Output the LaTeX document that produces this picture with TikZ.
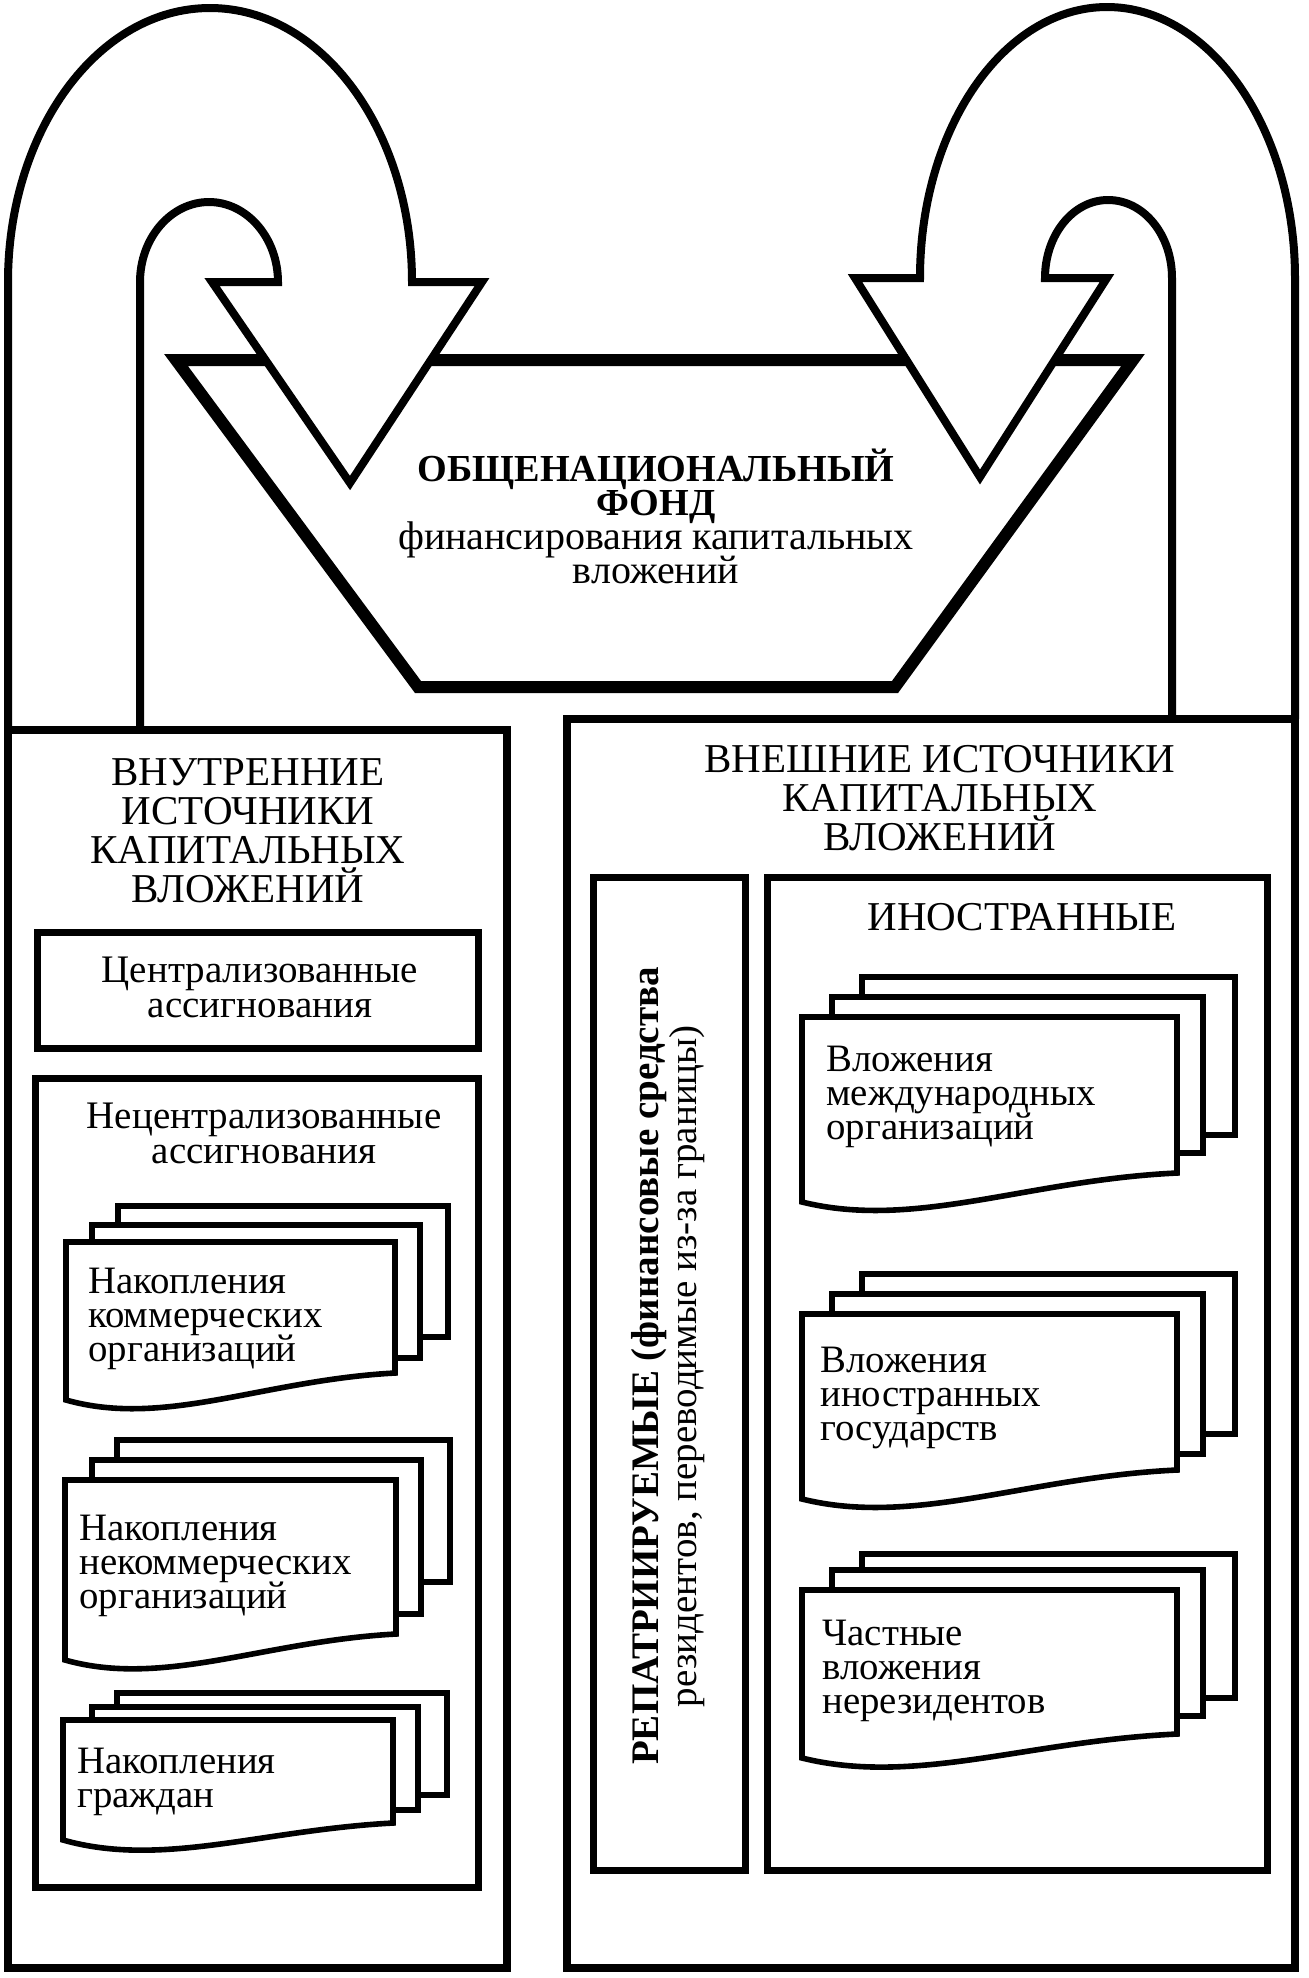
\documentclass[tikz,border=0pt]{standalone}
\usepackage{fontspec}
\setmainfont{Liberation Serif}
\setlength{\lineskiplimit}{-50pt}

\begin{document}
\begin{tikzpicture}[x=0.5pt, y=-0.5pt,
  band/.style = {draw, fill=white, line width=4pt},
  fund/.style = {draw, fill=white, line width=6pt},
  frame/.style = {draw, line width=4pt},
  inbox/.style = {draw, fill=white, line width=3.5pt},
  sheet/.style = {draw, fill=white, line width=2.8pt},
  head/.style = {inner sep=0pt, align=center, anchor=base, font=\fontsize{20.5}{19.5}\selectfont},
  txt/.style = {inner sep=0pt, align=center, anchor=base, font=\fontsize{19.5}{17.5}\selectfont},
  doc/.style = {inner sep=0pt, align=left, anchor=base west, font=\fontsize{19.4}{17}\selectfont}]
\useasboundingbox (0,0) rectangle (1308,1978);

% fund and the two arrows over it
\filldraw[fund] (176,360) -- (1133,360) -- (895,687) -- (418,687) -- cycle;
\filldraw[band] (8,730) -- (8,282) .. controls (8,131) and (98,8) .. (210,8) .. controls (322,8) and (412,131) .. (412,282) -- (482,282) -- (350,483) -- (212,282) -- (278,282) .. controls (278,238) and (247,202) .. (209,202) .. controls (171,202) and (140,238) .. (140,282) -- (140,730);
\filldraw[band] (1295,719) -- (1295,278) .. controls (1295,128) and (1210,7) .. (1107,7) .. controls (1004,7) and (920,128) .. (920,278) -- (855,278) -- (980,477) -- (1107,278) -- (1045,278) .. controls (1045,235) and (1073,200) .. (1108,200) .. controls (1144,200) and (1172,235) .. (1172,278) -- (1172,719);
\node[txt, font=\fontsize{20}{17}\selectfont] (fund) at (656,583) {{\fontsize{19.1}{17}\selectfont\bfseries ОБЩЕНАЦИОНАЛЬНЫЙ}\\{\fontsize{19.1}{17}\selectfont\bfseries ФОНД}\\финансирования капитальных\\вложений};

% internal sources
\draw[frame] (8,730) rectangle (507,1968);
\node[head] (inner) at (248,902) {ВНУТРЕННИЕ\\ИСТОЧНИКИ\\КАПИТАЛЬНЫХ\\ВЛОЖЕНИЙ};
\filldraw[inbox] (37,932) rectangle (478,1048);
\node[txt] (central) at (260,1017) {Централизованные\\ассигнования};
\filldraw[inbox] (35,1078) rectangle (478,1887);
\node[txt] (decentral) at (264,1163) {Нецентрализованные\\ассигнования};

\filldraw[sheet] (118,1206) rectangle (448,1337);
\filldraw[sheet] (92,1225) rectangle (420,1358);
\filldraw[sheet] (66,1242) -- (395,1242) -- (395,1373) .. controls (263,1380) and (165,1428) .. (66,1400) -- cycle;
\node[doc] (acc1) at (88,1361) {Накопления\\коммерческих\\организаций};

\filldraw[sheet] (117,1440) rectangle (450,1582);
\filldraw[sheet] (92,1460) rectangle (421,1614);
\filldraw[sheet] (65,1480) -- (396,1480) -- (396,1634) .. controls (264,1641) and (164,1688) .. (65,1660) -- cycle;
\node[doc] (acc2) at (79,1608) {Накопления\\некоммерческих\\организаций};

\filldraw[sheet] (117,1693) rectangle (447,1795);
\filldraw[sheet] (92,1707) rectangle (418,1810);
\filldraw[sheet] (63,1720) -- (393,1720) -- (393,1823) .. controls (261,1830) and (162,1868) .. (63,1840) -- cycle;
\node[doc] (acc3) at (77,1807) {Накопления\\граждан};

% external sources
\draw[frame] (567,719) rectangle (1295,1968);
\node[head] (outer) at (940,850) {ВНЕШНИЕ ИСТОЧНИКИ\\КАПИТАЛЬНЫХ\\ВЛОЖЕНИЙ};
\filldraw[inbox] (593,877) rectangle (745,1870);
\node[txt, anchor=center, rotate=90, font=\fontsize{19.5}{19}\selectfont] (repat) at (668,1366) {\textbf{РЕПАТРИИРУЕМЫЕ (финансовые средства}\\резидентов, переводимые из-за границы)};
\filldraw[inbox] (767,877) rectangle (1267,1870);
\node[head] (foreign) at (1022,930) {ИНОСТРАННЫЕ};

\filldraw[sheet] (862,977) rectangle (1235,1135);
\filldraw[sheet] (832,997) rectangle (1203,1153);
\filldraw[sheet] (802,1017) -- (1177,1017) -- (1177,1173) .. controls (1027,1180) and (915,1230) .. (802,1202) -- cycle;
\node[doc] (inv1) at (826,1139) {Вложения\\международных\\организаций};

\filldraw[sheet] (862,1274) rectangle (1235,1434);
\filldraw[sheet] (832,1294) rectangle (1203,1454);
\filldraw[sheet] (802,1314) -- (1177,1314) -- (1177,1470) .. controls (1027,1477) and (915,1527) .. (802,1499) -- cycle;
\node[doc] (inv2) at (820,1440) {Вложения\\иностранных\\государств};

\filldraw[sheet] (862,1554) rectangle (1235,1698);
\filldraw[sheet] (832,1570) rectangle (1203,1716);
\filldraw[sheet] (802,1590) -- (1177,1590) -- (1177,1734) .. controls (1027,1741) and (915,1786) .. (802,1758) -- cycle;
\node[doc] (inv3) at (822,1713) {Частные\\вложения\\нерезидентов};
\end{tikzpicture}
\end{document}
